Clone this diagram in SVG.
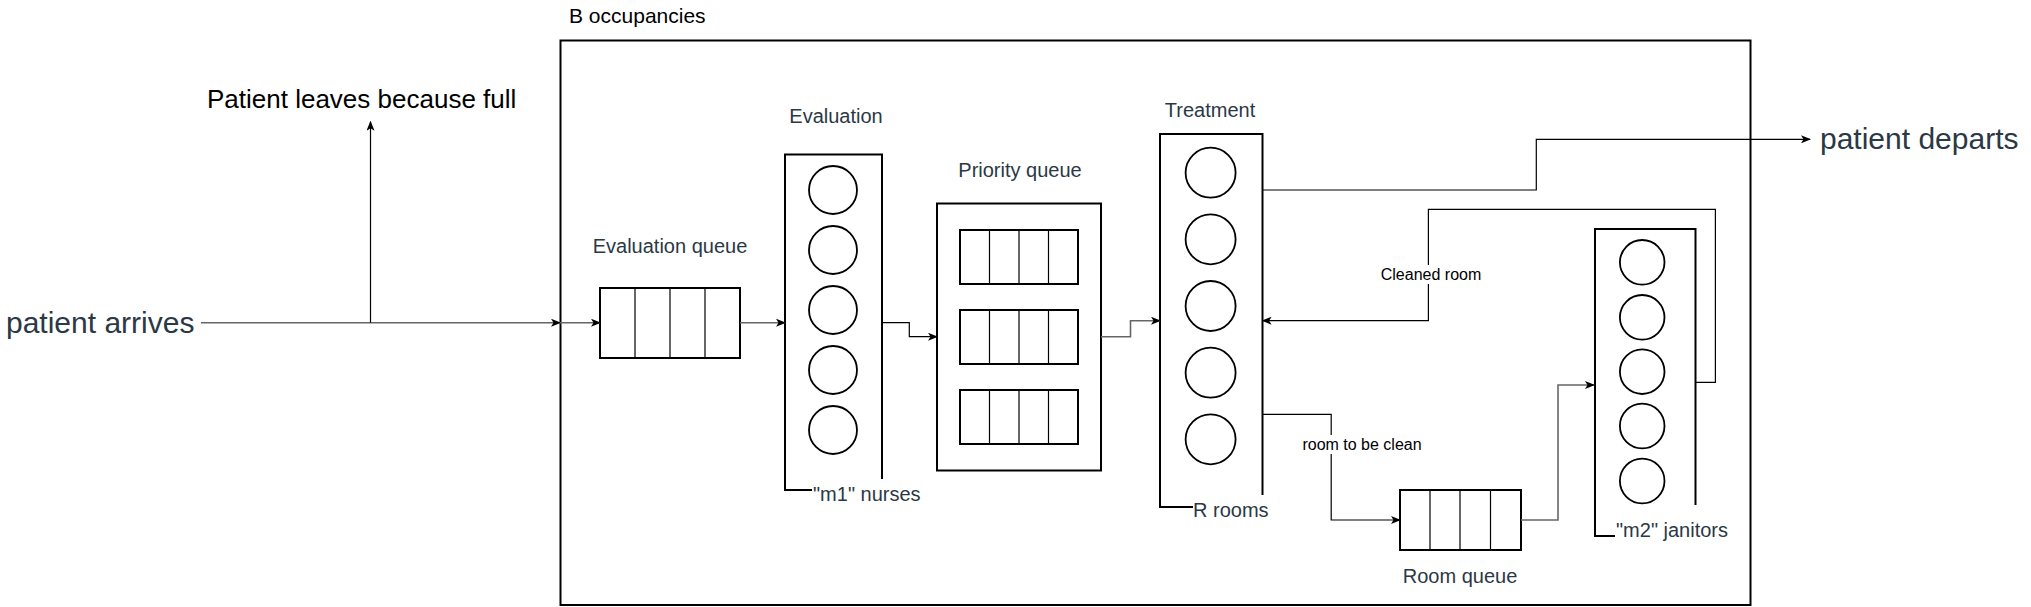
<svg xmlns="http://www.w3.org/2000/svg" width="2031" height="607" viewBox="0 0 2031 607">
<style>
text{font-family:"Liberation Sans",Arial,Helvetica,sans-serif}
.big{font-size:30px;fill:#2b3845}
.lbl{font-size:20px;fill:#2b3845}
.blk{fill:#000}
.edge{font-size:16px;fill:#000}
.box{fill:#fff;stroke:#000;stroke-width:2}
.open{fill:none;stroke:#000;stroke-width:2}
.q{fill:#fff;stroke:#000;stroke-width:2}
.div{stroke:#000;stroke-width:1.2}
.c{fill:#fff;stroke:#000;stroke-width:1.8}
.ln{fill:none;stroke:#000;stroke-width:1.2}
.gr{fill:none;stroke:#666;stroke-width:1.6}
</style>
<defs>
<marker id="ah" viewBox="0 0 10 8" refX="9" refY="4" markerWidth="10" markerHeight="8" markerUnits="userSpaceOnUse" orient="auto">
<path d="M0,0 L10,4 L0,8 L2.5,4 z" fill="#000"/>
</marker>
</defs>
<rect width="2031" height="607" fill="#fff"/>

<g id="container">
<rect class="box" x="560.5" y="40.5" width="1190" height="564.5" fill="none"/>
<text class="blk" x="569" y="23" font-size="21">B occupancies</text>
</g>

<g id="patient-arrives"><text class="big" x="6" y="333">patient arrives</text></g>
<g id="patient-leaves"><text class="blk" x="207" y="108" font-size="26">Patient leaves because full</text></g>
<g id="patient-departs"><text class="big" x="1820" y="149">patient departs</text></g>

<g id="evaluation-queue">
<text class="lbl" x="670" y="253" text-anchor="middle">Evaluation queue</text>
<rect class="q" x="600" y="288" width="140" height="70"/>
<line class="div" x1="635" y1="288" x2="635" y2="358"/>
<line class="div" x1="670" y1="288" x2="670" y2="358"/>
<line class="div" x1="705" y1="288" x2="705" y2="358"/>
</g>

<g id="evaluation">
<text class="lbl" x="836" y="123" text-anchor="middle">Evaluation</text>
<path class="open" d="M812,490 H785 V154.5 H882 V479"/>
<circle class="c" cx="833" cy="190" r="24"/>
<circle class="c" cx="833" cy="250" r="24"/>
<circle class="c" cx="833" cy="310" r="24"/>
<circle class="c" cx="833" cy="370" r="24"/>
<circle class="c" cx="833" cy="430" r="24"/>
<text class="lbl" x="813" y="501">"m1" nurses</text>
</g>

<g id="priority-queue">
<text class="lbl" x="1020" y="177" text-anchor="middle">Priority queue</text>
<rect class="box" x="937" y="203.5" width="164" height="267"/>
<rect class="q" x="960" y="230" width="118" height="54"/>
<line class="div" x1="989.5" y1="230" x2="989.5" y2="284"/>
<line class="div" x1="1019" y1="230" x2="1019" y2="284"/>
<line class="div" x1="1048.5" y1="230" x2="1048.5" y2="284"/>
<rect class="q" x="960" y="310" width="118" height="54"/>
<line class="div" x1="989.5" y1="310" x2="989.5" y2="364"/>
<line class="div" x1="1019" y1="310" x2="1019" y2="364"/>
<line class="div" x1="1048.5" y1="310" x2="1048.5" y2="364"/>
<rect class="q" x="960" y="390" width="118" height="54"/>
<line class="div" x1="989.5" y1="390" x2="989.5" y2="444"/>
<line class="div" x1="1019" y1="390" x2="1019" y2="444"/>
<line class="div" x1="1048.5" y1="390" x2="1048.5" y2="444"/>
</g>

<g id="treatment">
<text class="lbl" x="1210" y="117" text-anchor="middle">Treatment</text>
<path class="open" d="M1193,507 H1160 V134 H1262.5 V495"/>
<circle class="c" cx="1210.6" cy="172.7" r="25"/>
<circle class="c" cx="1210.6" cy="239.3" r="25"/>
<circle class="c" cx="1210.6" cy="306" r="25"/>
<circle class="c" cx="1210.6" cy="372.7" r="25"/>
<circle class="c" cx="1210.6" cy="439.3" r="25"/>
<text class="lbl" x="1193" y="517">R rooms</text>
</g>

<g id="room-queue">
<rect class="q" x="1400" y="490" width="121" height="60"/>
<line class="div" x1="1430" y1="490" x2="1430" y2="550"/>
<line class="div" x1="1460" y1="490" x2="1460" y2="550"/>
<line class="div" x1="1490.5" y1="490" x2="1490.5" y2="550"/>
<text class="lbl" x="1460" y="583" text-anchor="middle">Room queue</text>
</g>

<g id="janitors">
<path class="open" d="M1615,536 H1595 V229 H1695.5 V505"/>
<circle class="c" cx="1642.2" cy="262.3" r="22.3"/>
<circle class="c" cx="1642.2" cy="317.3" r="22.3"/>
<circle class="c" cx="1642.2" cy="371.7" r="22.3"/>
<circle class="c" cx="1642.2" cy="426" r="22.3"/>
<circle class="c" cx="1642.2" cy="481" r="22.3"/>
<text class="lbl" x="1616" y="537">"m2" janitors</text>
</g>

<g id="connectors">
<path class="gr" d="M201,322.7 H560" marker-end="url(#ah)"/>
<path class="gr" d="M560,322.7 H600" marker-end="url(#ah)"/>
<path class="ln" d="M370.5,322.7 V121.7" marker-end="url(#ah)"/>
<path class="gr" d="M740,322.7 H785" marker-end="url(#ah)"/>
<path class="ln" d="M882,322.7 H909.3 V336.7 H937" marker-end="url(#ah)"/>
<path class="gr" d="M1101,336.7 H1130.5 V320.7 H1160" marker-end="url(#ah)"/>
<path class="ln" d="M1262.6,190 H1536.3 V139.3 H1810" marker-end="url(#ah)"/>
<path class="ln" d="M1262.6,414.3 H1331.2 V520 H1400" marker-end="url(#ah)"/>
<path class="gr" d="M1521,520 H1558 V385 H1594" marker-end="url(#ah)"/>
<path class="ln" d="M1695.4,382.3 H1715.4 V209.3 H1428.4 V320.7 H1262.6" marker-end="url(#ah)"/>
<rect x="1381" y="265" width="101" height="19" fill="#fff"/>
<text class="edge" x="1431" y="280" text-anchor="middle">Cleaned room</text>
<rect x="1302" y="435" width="120" height="19" fill="#fff"/>
<text class="edge" x="1362" y="450" text-anchor="middle">room to be clean</text>
</g>
</svg>
